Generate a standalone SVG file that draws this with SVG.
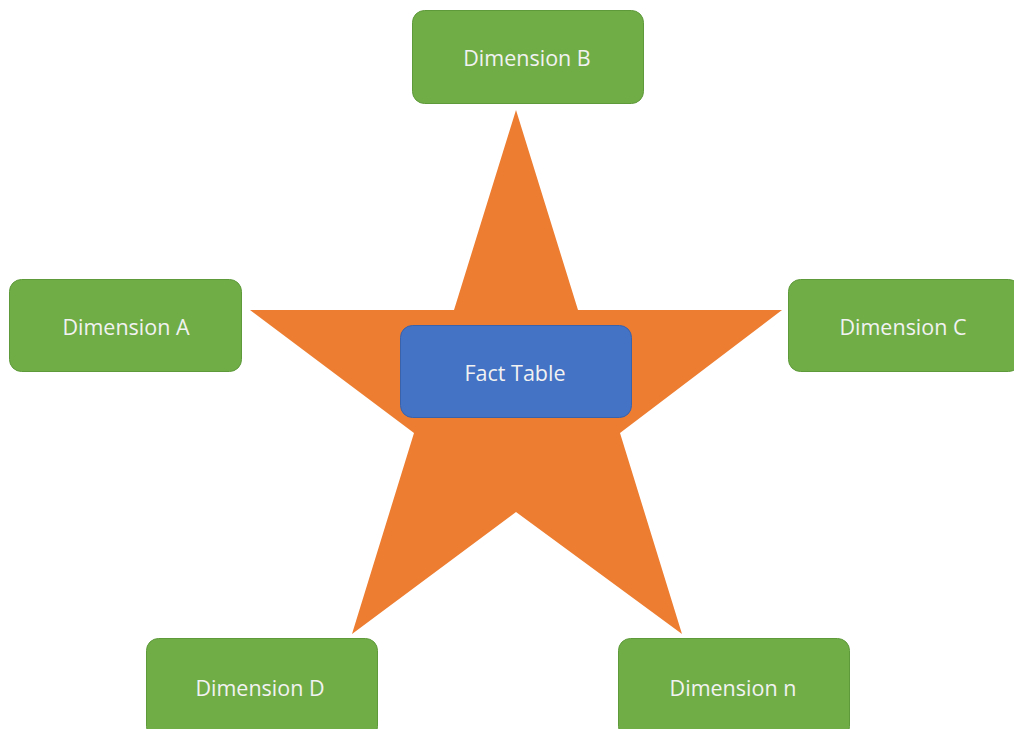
<svg xmlns="http://www.w3.org/2000/svg" width="1014" height="729" viewBox="0 0 1014 729">
<style>
.dim{fill:#70AD47;stroke:#5E9A3A;stroke-width:1}
.fact{fill:#4472C4;stroke:#3A62AA;stroke-width:1}
.lbl{font-family:"Open Sans","DejaVu Sans",sans-serif;font-size:21.5px;fill:#F2F2F2;text-anchor:middle;dominant-baseline:central}
</style>
<rect width="1014" height="729" fill="#FFFFFF"/>
<g id="star">
<polygon points="516,110 578,310 782,310 620,433 682,634 516,512 352,634 414,433 250,310 454,310" fill="#ED7D31"/>
</g>
<g id="connectors"></g>
<g id="dimB"><rect class="dim" x="412.5" y="10.5" width="231" height="93" rx="12"/><text class="lbl" x="527" y="57">Dimension B</text></g>
<g id="dimA"><rect class="dim" x="9.5" y="279.5" width="232" height="92" rx="12"/><text class="lbl" x="126" y="326">Dimension A</text></g>
<g id="dimC"><rect class="dim" x="788.5" y="279.5" width="232" height="92" rx="12"/><text class="lbl" x="903" y="326">Dimension C</text></g>
<g id="fact"><rect class="fact" x="400.5" y="325.5" width="231" height="92" rx="12"/><text class="lbl" x="515" y="372">Fact Table</text></g>
<g id="dimD"><rect class="dim" x="146.5" y="638.5" width="231" height="100" rx="12"/><text class="lbl" x="260" y="687">Dimension D</text></g>
<g id="dimN"><rect class="dim" x="618.5" y="638.5" width="231" height="100" rx="12"/><text class="lbl" x="733" y="687">Dimension n</text></g>
</svg>
